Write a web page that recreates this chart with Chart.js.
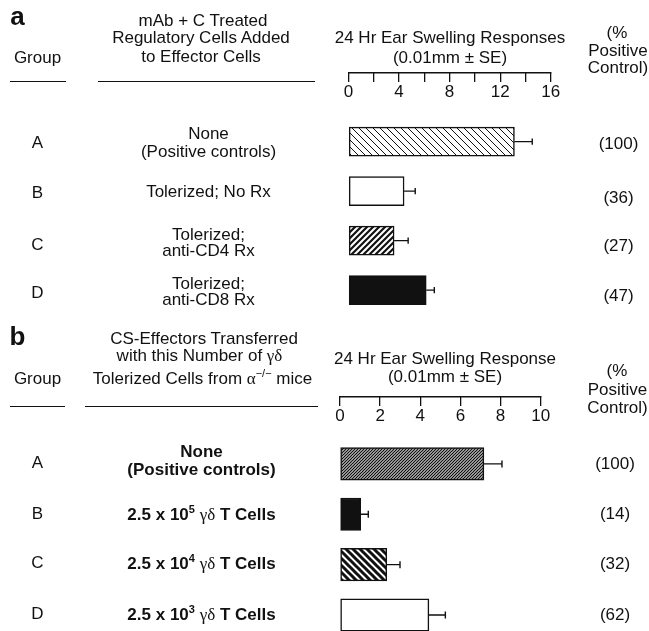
<!DOCTYPE html>
<html>
<head>
<meta charset="utf-8">
<script src="https://cdn.jsdelivr.net/npm/chart.js@4.4.1/dist/chart.umd.min.js"></script>
<style>
html,body{margin:0;padding:0;background:#fff;}
#wrap{position:relative;width:649px;height:631px;overflow:hidden;font-family:'Liberation Sans',Arial,Helvetica,sans-serif;color:#111;}
canvas{position:absolute;left:0;top:0;}
.t{position:absolute;white-space:nowrap;font-size:17px;line-height:20px;transform:translate(-50%,-50%);}
.b{font-weight:bold;}
.g{font-family:'Liberation Serif','DejaVu Serif',serif;font-weight:normal;}
.sup{font-size:11px;position:relative;top:-7px;line-height:0;}
.rule{position:absolute;height:0;border-top:1.5px solid #111;}
</style>
</head>
<body>
<div id="wrap">
<canvas id="cA" width="649" height="631"></canvas>
<canvas id="cB" width="649" height="631"></canvas>
</div>
<script>
// ---------- data ----------
const groups = ['A', 'B', 'C', 'D'];

// panel a
const swellingA = [13.13, 4.40, 3.61, 6.15];
const seA = [1.41, 0.88, 1.11, 0.64];
const pctA = ['(100)', '(36)', '(27)', '(47)'];
const tickValuesA = [0, 2, 4, 6, 8, 10, 12, 14, 16];
const tickLabelsA = ['0', '', '4', '', '8', '', '12', '', '16'];
const treatmentsA = [
  ['None', '(Positive controls)'],
  ['Tolerized; No Rx'],
  ['Tolerized;', 'anti-CD4 Rx'],
  ['Tolerized;', 'anti-CD8 Rx']
];

// panel b
const swellingB = [7.17, 1.03, 2.33, 4.43];
const seB = [0.90, 0.38, 0.66, 0.82];
const pctB = ['(100)', '(14)', '(32)', '(62)'];
const tickValuesB = [0, 2, 4, 6, 8, 10];
const tickLabelsB = ['0', '2', '4', '6', '8', '10'];
const cellsB = [
  ['None', '(Positive controls)'],
  ['2.5 x 10<span class="sup">5</span> <span class="g">γδ</span> T Cells'],
  ['2.5 x 10<span class="sup">4</span> <span class="g">γδ</span> T Cells'],
  ['2.5 x 10<span class="sup">3</span> <span class="g">γδ</span> T Cells']
];

// ---------- helpers ----------
const wrap = document.getElementById('wrap');
function put(html, x, y, opts) {
  opts = opts || {};
  const d = document.createElement('div');
  d.className = 't' + (opts.bold ? ' b' : '');
  d.innerHTML = html;
  d.style.left = x + 'px';
  d.style.top = y + 'px';
  if (opts.size) { d.style.fontSize = opts.size + 'px'; d.style.lineHeight = (opts.size + 4) + 'px'; }
  wrap.appendChild(d);
}
function rule(x1, x2, y) {
  const d = document.createElement('div');
  d.className = 'rule';
  d.style.left = x1 + 'px'; d.style.width = (x2 - x1) + 'px'; d.style.top = y + 'px';
  wrap.appendChild(d);
}
function hatch(ctx, size, lw, dir) {
  const c = document.createElement('canvas');
  c.width = c.height = size;
  const g = c.getContext('2d');
  g.fillStyle = '#fff'; g.fillRect(0, 0, size, size);
  g.strokeStyle = '#111'; g.lineWidth = lw;
  g.beginPath();
  const s = size;
  if (dir === 'down') {
    for (const k of [-1, 0, 1]) { g.moveTo(-s, -s + k * s); g.lineTo(2 * s, 2 * s + k * s); }
  } else {
    for (const k of [0, 1, 2]) { g.moveTo(-s, s + k * s); g.lineTo(2 * s, -2 * s + k * s); }
  }
  g.stroke();
  return ctx.createPattern(c, 'repeat');
}

const errorBars = {
  id: 'errorBars',
  afterDatasetsDraw(chart, args, opts) {
    const ctx = chart.ctx;
    const x = chart.scales.x;
    const meta = chart.getDatasetMeta(0);
    const vals = chart.data.datasets[0].data;
    ctx.save();
    ctx.strokeStyle = '#111';
    ctx.lineWidth = 1.4;
    meta.data.forEach((bar, i) => {
      const v = vals[i].x, e = opts.errors[i];
      const x0 = x.getPixelForValue(v), x1 = x.getPixelForValue(v + e);
      const y = bar.y;
      ctx.beginPath();
      ctx.moveTo(x0, y); ctx.lineTo(x1, y);
      ctx.moveTo(x1, y - opts.cap); ctx.lineTo(x1, y + opts.cap);
      ctx.stroke();
    });
    ctx.restore();
  }
};

const tickFont = { family: "'Liberation Sans', Arial, sans-serif", size: 17, lineHeight: 1.2 };

function makeChart(id, values, errors, colors, tickVals, tickLabels, xmax, pad, ymin, ymax, thickness, cap) {
  return new Chart(document.getElementById(id), {
    type: 'bar',
    data: {
      datasets: [{
        data: values.map((v, i) => ({ x: v, y: i })),
        backgroundColor: colors,
        borderColor: '#111',
        borderWidth: 1.5,
        borderSkipped: false,
        barThickness: thickness
      }]
    },
    options: {
      indexAxis: 'y',
      responsive: false,
      animation: false,
      devicePixelRatio: 1,
      layout: { padding: pad },
      plugins: { legend: { display: false }, tooltip: { enabled: false }, errorBars: { errors: errors, cap: cap } },
      scales: {
        x: {
          type: 'linear', position: 'top', min: 0, max: xmax, offset: false,
          afterBuildTicks: (axis) => { axis.ticks = tickVals.map(v => ({ value: v })); },
          ticks: {
            mirror: true, padding: 8.8, autoSkip: false, maxRotation: 0,
            color: '#111', font: tickFont,
            callback: (value, index) => tickLabels[index]
          },
          grid: { drawOnChartArea: false, drawTicks: true, tickLength: -9, color: '#111', lineWidth: 1.3, offset: false },
          border: { display: true, color: '#111', width: 1.5 }
        },
        y: {
          type: 'linear', display: false, reverse: true, min: ymin, max: ymax,
          offset: false, grace: 0, bounds: 'data',
          grid: { offset: false }
        }
      }
    },
    plugins: [errorBars]
  });
}

// ---------- panel a ----------
const ctxA = document.getElementById('cA').getContext('2d');
const colorsA = [hatch(ctxA, 7, 1.0, 'down'), '#ffffff', hatch(ctxA, 6, 2.2, 'up'), '#111111'];
makeChart('cA', swellingA, seA, colorsA, tickValuesA, tickLabelsA, 16,
  { left: 348.5, right: 98.3, top: 64.4, bottom: 316 }, -1.386, 3.503, 29, 3.2);

// ---------- panel b ----------
const ctxB = document.getElementById('cB').getContext('2d');
const colorsB = [hatch(ctxB, 3, 1.3, 'up'), '#111111', hatch(ctxB, 7, 3, 'down'), '#ffffff'];
makeChart('cB', swellingB, seB, colorsB, tickValuesB, tickLabelsB, 10,
  { left: 340, right: 108.3, top: 388.4, bottom: 0 }, -1.329, 3.318, 32.5, 3.5);

// ---------- text: panel a ----------
put('a', 17.5, 15.7, { bold: true, size: 26 });
put('mAb + C Treated', 203, 20.5);
put('Regulatory Cells Added', 201, 38);
put('to Effector Cells', 201, 56.7);
put('Group', 37.5, 58);
rule(10, 66, 80.5);
rule(98, 315, 80.5);
put('24 Hr Ear Swelling Responses', 450, 37.5);
put('(0.01mm ± SE)', 450, 57.5);
put('(%', 617, 33);
put('Positive', 618, 50.5);
put('Control)', 618, 68);

const rowYA = [143, 193, 245, 293];
const descYA = [[133.5, 152], [192], [235, 251], [284, 300]];
const pctYA = [143.5, 197.5, 246, 296];
groups.forEach((g, i) => {
  put(g, 37.5, rowYA[i]);
  treatmentsA[i].forEach((line, j) => put(line, 208.5, descYA[i][j]));
  put(pctA[i], 618.5, pctYA[i]);
});

// ---------- text: panel b ----------
put('b', 17.5, 335.7, { bold: true, size: 26 });
put('CS-Effectors Transferred', 204, 339);
put('with this Number of <span class="g">γδ</span>', 199.5, 356);
put('Tolerized Cells from <span class="g">α</span><span class="sup">−/−</span> mice', 202.5, 379);
put('Group', 37.5, 378.5);
rule(10, 65, 405.5);
rule(85, 318, 405.5);
put('24 Hr Ear Swelling Response', 445, 359);
put('(0.01mm ± SE)', 445, 377);
put('(%', 617, 371);
put('Positive', 617.5, 389.5);
put('Control)', 617.5, 407.5);

const rowYB = [462.5, 514, 563, 614];
const descYB = [[452, 470], [514.5], [563.5], [614.5]];
const pctYB = [464, 513.5, 564, 615];
groups.forEach((g, i) => {
  put(g, 37.5, rowYB[i]);
  cellsB[i].forEach((line, j) => put(line, 201.5, descYB[i][j], { bold: true }));
  put(pctB[i], 615, pctYB[i]);
});
</script>
</body>
</html>
